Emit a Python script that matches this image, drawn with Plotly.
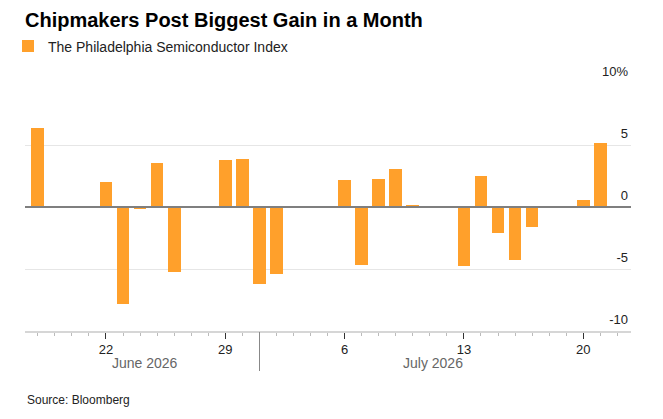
import plotly.graph_objects as go

# daily % change of the Philadelphia Semiconductor Index
dates = [
    "2026-06-18", "2026-06-22", "2026-06-23", "2026-06-24", "2026-06-25",
    "2026-06-26", "2026-06-29", "2026-06-30", "2026-07-01", "2026-07-02",
    "2026-07-06", "2026-07-07", "2026-07-08", "2026-07-09", "2026-07-10",
    "2026-07-13", "2026-07-14", "2026-07-15", "2026-07-16", "2026-07-17",
    "2026-07-20", "2026-07-21",
]
changes = [
    6.39, 2.04, -7.83, -0.19, 3.57,
    -5.28, 3.81, 3.89, -6.24, -5.41,
    2.15, -4.64, 2.23, 3.06, 0.12,
    -4.74, 2.52, -2.09, -4.29, -1.63,
    0.59, 5.18,
]

x_tick_dates = ["2026-06-22", "2026-06-29", "2026-07-06", "2026-07-13", "2026-07-20"]
x_tick_labels = ["22", "29", "6", "13", "20"]
y_tick_vals = [-10, -5, 0, 5, 10]
y_tick_labels = ["-10", "-5", "0", "5", "10%"]
month_labels = ["June 2026", "July 2026"]
month_label_pos = ["2026-06-24 06:30", "2026-07-11 04:00"]
month_break = ["2026-07-01"]

ORANGE = "#ffa02b"
FONT = "Liberation Sans"
DAY_MS = 86400000

# the page body keeps its default 8px margin, so the figure is 8px smaller
W, H = 655, 411

fig = go.Figure()
fig.add_trace(
    go.Bar(
        x=dates,
        y=changes,
        name="The Philadelphia Semiconductor Index",
        marker_color=ORANGE,
        marker_line_width=0,
        width=0.745 * DAY_MS,
        showlegend=True,
    )
)
# invisible trace only to carry the month separator tick
fig.add_trace(
    go.Scatter(x=month_break, y=[0], xaxis="x2", mode="markers",
               marker_opacity=0, showlegend=False, hoverinfo="skip")
)

x_range = ["2026-06-17 06:00", "2026-07-22 19:12"]

fig.update_layout(
    width=W,
    height=H,
    template="plotly_white",
    plot_bgcolor="white",
    paper_bgcolor="white",
    margin={"l": 17, "r": 32, "t": 75, "b": 88, "autoexpand": False},
    font=dict(family=FONT, size=13, color="#222"),
    bargap=0,
    title=dict(
        text="<b>Chipmakers Post Biggest Gain in a Month</b>",
        xref="container",
        x=17 / W,
        xanchor="left",
        y=1 - 11.5 / H,
        yanchor="middle",
        font=dict(family=FONT, size=20, color="#000"),
    ),
    legend=dict(
        orientation="h",
        xref="container",
        yref="container",
        x=-1.5 / W,
        y=1 - 38.5 / H,
        xanchor="left",
        yanchor="middle",
        font=dict(size=14, color="#222"),
        itemwidth=30,
    ),
    xaxis=dict(
        type="date",
        range=x_range,
        tickvals=x_tick_dates,
        ticktext=x_tick_labels,
        ticks="outside",
        ticklen=6,
        tickwidth=1,
        tickcolor="#333",
        tickfont=dict(size=13, color="#222"),
        showgrid=False,
        zeroline=False,
        showline=True,
        linecolor="#d6d6d6",
        linewidth=1.5,
        minor=dict(dtick=DAY_MS, tick0="2026-06-17", ticks="outside",
                   ticklen=3, tickcolor="#bbbbbb", showgrid=False),
    ),
    xaxis2=dict(
        type="date",
        overlaying="x",
        range=x_range,
        tickvals=month_break,
        showticklabels=False,
        ticks="outside",
        ticklen=39,
        tickcolor="#888",
        tickwidth=1,
        showgrid=False,
        zeroline=False,
        showline=False,
    ),
    yaxis=dict(
        side="right",
        range=[-10, 10],
        tickvals=y_tick_vals,
        ticktext=y_tick_labels,
        ticklabelposition="inside",
        ticklabeloverflow="allow",
        ticklabelshift=-12,
        ticklabelstandoff=0,
        tickfont=dict(size=13, color="#222"),
        showgrid=True,
        gridcolor="#e6e6e6",
        gridwidth=1,
        zeroline=False,
        showline=False,
        ticks="",
    ),
)

# zero baseline drawn above the bars
fig.add_hline(y=0, line_color="#7f7f7f", line_width=2, layer="above")

for label, pos in zip(month_labels, month_label_pos):
    fig.add_annotation(
        x=pos, xref="x", y=-32 / 248, yref="paper",
        text=label, showarrow=False,
        font=dict(size=14, color="#666"),
        xanchor="center", yanchor="middle",
    )

fig.add_annotation(
    text="Source: Bloomberg",
    xref="paper", yref="paper",
    x=0, y=-69 / 248,
    xanchor="left", yanchor="middle",
    showarrow=False,
    font=dict(size=12, color="#222"),
)

fig.write_html("out.html")
